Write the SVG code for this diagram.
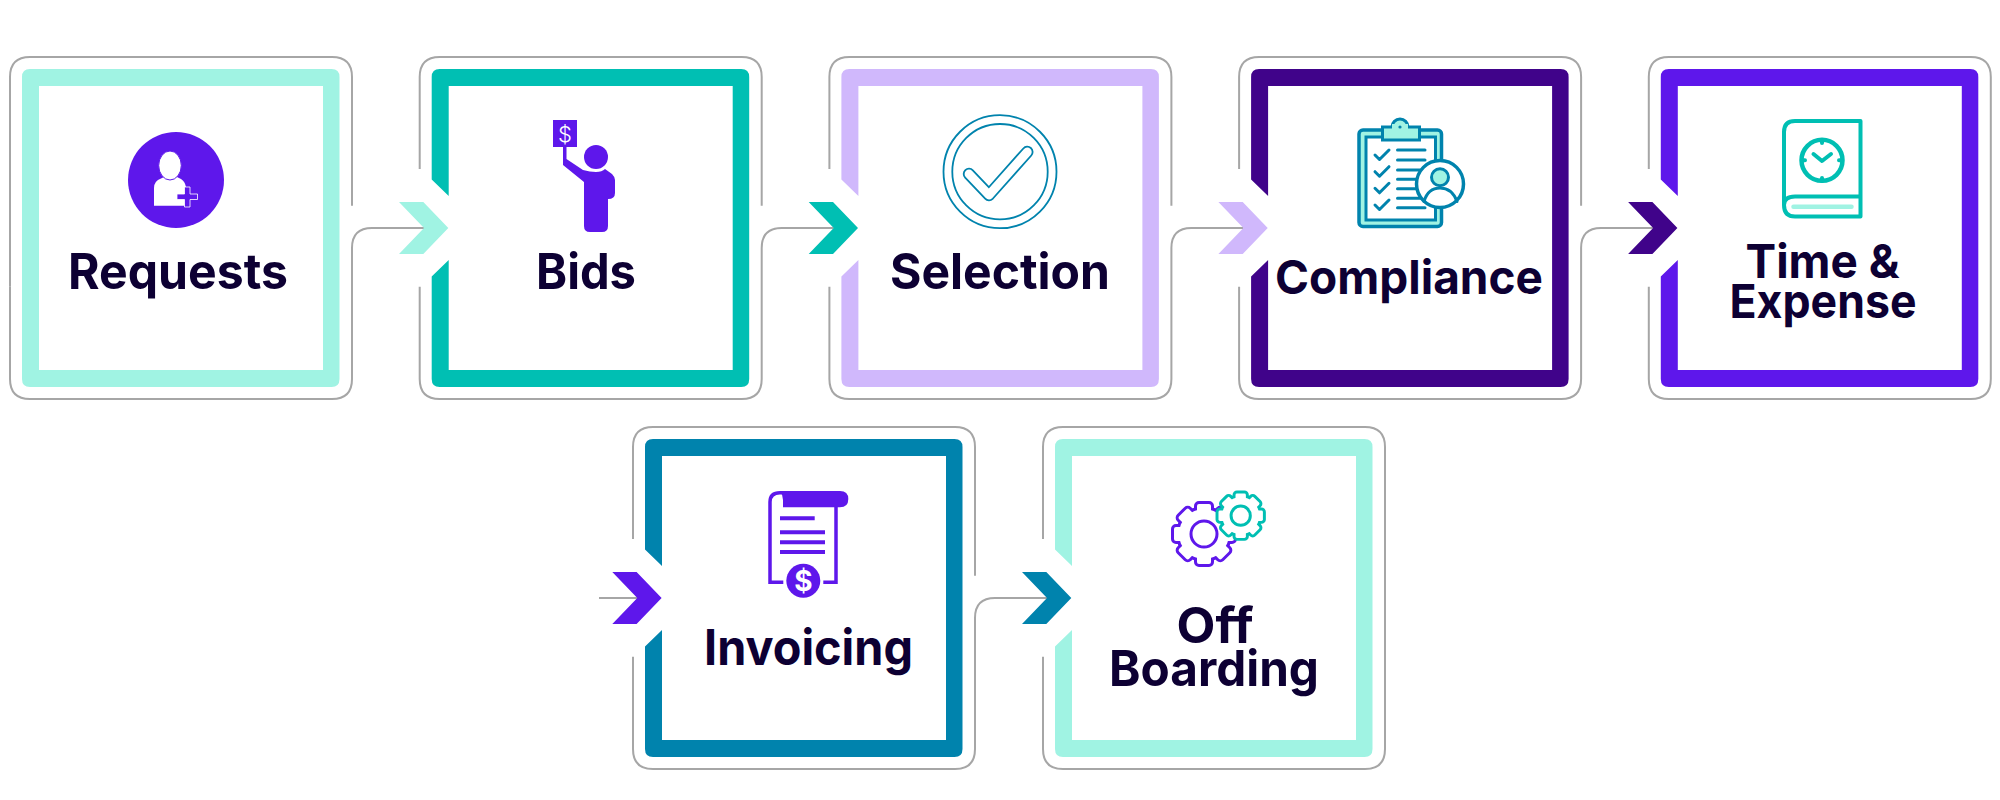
<svg xmlns="http://www.w3.org/2000/svg" width="2000" height="800" viewBox="0 0 2000 800">
<style>
.lbl{font-family:"Inter","Liberation Sans",sans-serif;font-weight:650;font-size:49px;fill:#0d0033;text-anchor:middle}
.sm{font-size:47px}
.wire{fill:none;stroke:#a6a6a6;stroke-width:2}
.tl{fill:none;stroke:#0083ad;stroke-linecap:round;stroke-linejoin:round}
</style>
<defs>
<path id="band" d="M39 86H323V370H39V260L22 276.5V379Q22 387 30 387H331.5Q339.5 387 339.5 379V77Q339.5 69 331.5 69H30Q22 69 22 77V179.5L39 196Z"/>
<polygon id="chev" points="399,202 423.3,202 448.3,228 423.3,254 399,254 424,228"/>
<path id="ftop" d="M10 169V77Q10 57 30 57H332Q352 57 352 77V205.7"/>
<path id="fbot" d="M424 228H372Q352 228 352 248V379Q352 399 332 399H30Q10 399 10 379V286.7"/>
<g id="gear">
<circle r="25"/>
<g id="teeth">
<rect x="-7" y="-30" width="14" height="12" rx="2"/>
<rect x="-7" y="-30" width="14" height="12" rx="2" transform="rotate(45)"/>
<rect x="-7" y="-30" width="14" height="12" rx="2" transform="rotate(90)"/>
<rect x="-7" y="-30" width="14" height="12" rx="2" transform="rotate(135)"/>
<rect x="-7" y="-30" width="14" height="12" rx="2" transform="rotate(180)"/>
<rect x="-7" y="-30" width="14" height="12" rx="2" transform="rotate(225)"/>
<rect x="-7" y="-30" width="14" height="12" rx="2" transform="rotate(270)"/>
<rect x="-7" y="-30" width="14" height="12" rx="2" transform="rotate(315)"/>
</g>
</g>
</defs>

<g id="connectors">
<use href="#fbot"  class="wire"/>
<path class="wire" d="M10 169V77Q10 57 30 57H332Q352 57 352 77V205.7"/>
<path class="wire" d="M10 169V286.7"/>
<use href="#ftop" class="wire" x="409.7"/><use href="#fbot" class="wire" x="409.7"/>
<use href="#ftop" class="wire" x="819.4"/><use href="#fbot" class="wire" x="819.4"/>
<use href="#ftop" class="wire" x="1229.1"/><use href="#fbot" class="wire" x="1229.1"/>
<path class="wire" d="M1648.8 169V77Q1648.8 57 1668.8 57H1970.8Q1990.8 57 1990.8 77V379Q1990.8 399 1970.8 399H1668.8Q1648.8 399 1648.8 379V286.7"/>
<use href="#ftop" class="wire" x="623" y="370"/><use href="#fbot" class="wire" x="623" y="370"/>
<path class="wire" d="M1043 539V447Q1043 427 1063 427H1365Q1385 427 1385 447V749Q1385 769 1365 769H1063Q1043 769 1043 749V656.7"/>
<path class="wire" d="M599 598H638"/>
<use href="#chev" fill="#a0f3e3"/>
<use href="#chev" fill="#00bfb3" x="409.7"/>
<use href="#chev" fill="#d0b8fc" x="819.4"/>
<use href="#chev" fill="#40038a" x="1229.1"/>
<use href="#chev" fill="#5e17eb" x="213.3" y="370"/>
<use href="#chev" fill="#0083ad" x="623" y="370"/>
</g>

<g id="node-requests">
<path fill="#a0f3e3" fill-rule="evenodd" d="M30 69H331.5Q339.5 69 339.5 77V379Q339.5 387 331.5 387H30Q22 387 22 379V77Q22 69 30 69ZM39 86V370H323V86Z"/>
<circle cx="176" cy="180" r="48" fill="#5e17eb"/>
<path fill="#fff" d="M154 205.7V188Q154 181 161 178.5L165 176.5Q170 181 176 176.5L181 179Q185 181.5 186 187V205.7Z"/>
<ellipse cx="170" cy="165.5" rx="11.3" ry="14.5" fill="#fff" stroke="#5e17eb" stroke-width="1"/>
<path fill="#5e17eb" stroke="#fff" stroke-width="0.8" d="M184.5 187H190V194H197.5V199.5H190V207H184.5V199.5H177V194H184.5Z"/>
<text class="lbl" x="178" y="289" textLength="220" lengthAdjust="spacingAndGlyphs">Requests</text>
</g>

<g id="node-bids">
<use href="#band" x="409.7" fill="#00bfb3"/>
<rect x="553" y="120" width="24" height="27" fill="#5e17eb"/>
<text x="565" y="142" text-anchor="middle" font-family="Inter,'Liberation Sans',sans-serif" font-weight="300" font-size="22" fill="#fff">$</text>
<circle cx="596" cy="157" r="12" fill="#5e17eb"/>
<path fill="#5e17eb" d="M563 147H566.5V159L583 170Q590 172 596 172Q602 172 605 169L612 174Q615 177 615 180V193Q615 199 608 199V226Q608 232 602 232H590Q584 232 584 226V182L563 165Z"/>
<text class="lbl" x="586" y="289" textLength="100" lengthAdjust="spacingAndGlyphs">Bids</text>
</g>

<g id="node-selection">
<use href="#band" x="819.4" fill="#d0b8fc"/>
<circle cx="1000" cy="171.7" r="56.5" fill="none" stroke="#0083ad" stroke-width="1.8"/>
<circle cx="1000" cy="171.7" r="47.7" fill="none" stroke="#0083ad" stroke-width="1.8"/>
<polyline class="tl" stroke-width="12.4" points="969,174 989,195 1027.3,152"/>
<polyline fill="none" stroke="#fff" stroke-width="8.8" stroke-linecap="round" stroke-linejoin="round" points="969,174 989,195 1027.3,152"/>
<text class="lbl" x="1000" y="289" textLength="220" lengthAdjust="spacingAndGlyphs">Selection</text>
</g>

<g id="node-compliance">
<use href="#band" x="1229.1" fill="#40038a"/>
<rect x="1359" y="130" width="82.5" height="96.5" rx="4" fill="#a0f3e3" stroke="#0083ad" stroke-width="3.5"/>
<rect x="1366" y="137" width="69.5" height="83" fill="#fff" stroke="#0083ad" stroke-width="3"/>
<circle cx="1400" cy="127" r="8" fill="#a0f3e3" stroke="#0083ad" stroke-width="3"/>
<rect x="1382.5" y="127" width="37" height="13" fill="#a0f3e3" stroke="#0083ad" stroke-width="3"/>
<rect x="1392" y="124" width="16" height="5" fill="#a0f3e3"/>
<circle cx="1400" cy="127" r="1.6" fill="#0083ad"/>
<path class="tl" stroke-width="3" d="M1375 155L1379.5 159.5L1389 150M1375 171.7L1379.5 176.2L1389 166.7M1375 188.3L1379.5 192.8L1389 183.3M1375 205L1379.5 209.5L1389 200M1397.5 150H1425M1397.5 160H1425M1397.5 170H1420M1397.5 179.3H1420M1397.5 188.7H1420M1397.5 198.3H1420M1397.5 207.7H1425"/>
<circle cx="1440" cy="184" r="23.5" fill="#fff" stroke="#0083ad" stroke-width="3.5"/>
<circle cx="1440" cy="177.3" r="8.5" fill="#a0f3e3" stroke="#0083ad" stroke-width="3"/>
<path class="tl" stroke-width="3" d="M1424 201.5Q1428 188 1440 188Q1452 188 1457 201.5"/>
<text class="lbl sm" x="1409" y="294" textLength="268" lengthAdjust="spacingAndGlyphs">Compliance</text>
</g>

<g id="node-time">
<use href="#band" x="1638.8" fill="#5e17eb"/>
<g fill="none" stroke="#00bfb3" stroke-width="4" stroke-linejoin="round">
<path d="M1860.5 121H1795Q1784 121 1784 132V205Q1784 216.5 1795 216.5H1860.5ZM1784 205Q1784 196.5 1795 196.5H1860.5"/>
<circle cx="1822" cy="160.3" r="20.5" stroke-width="4.5"/>
<path stroke-width="4" stroke-linecap="round" d="M1813.5 154L1822 161L1831 154M1822 140V143M1822 178V181M1802 160.3H1805M1839 160.3H1842"/>
</g>
<path d="M1793.5 206.7H1851.5" fill="none" stroke="#a0f3e3" stroke-width="4.5" stroke-linecap="round"/>
<text class="lbl sm" x="1822.5" y="278" textLength="154" lengthAdjust="spacingAndGlyphs">Time &amp;</text>
<text class="lbl sm" x="1823" y="318" textLength="187" lengthAdjust="spacingAndGlyphs">Expense</text>
</g>

<g id="node-invoicing">
<use href="#band" x="623" y="370" fill="#0083ad"/>
<g fill="none" stroke="#5e17eb">
<path stroke-width="3.5" d="M783.3 582.3H770V502Q770 492.7 780 492.7H790M836 505V582.3H823.3"/>
<path stroke-width="4" d="M780 518.3H814.7M780 532.3H825M780 542.3H825M780 552H825"/>
</g>
<path fill="#5e17eb" d="M780 491H840Q848.3 491 848.3 499Q848.3 507.3 840 507.3H783Q783 505 783 500Q783 495 780 491Z"/>
<circle cx="803.3" cy="580.7" r="17" fill="#5e17eb"/>
<text x="803.3" y="591" text-anchor="middle" font-family="Inter,'Liberation Sans',sans-serif" font-weight="700" font-size="28" fill="#fff">$</text>
<text class="lbl" x="808.5" y="665" textLength="209" lengthAdjust="spacingAndGlyphs">Invoicing</text>
</g>

<g id="node-offboarding">
<use href="#band" x="1033" y="370" fill="#a0f3e3"/>
<g transform="translate(1204 534)">
<use href="#gear" fill="#5e17eb" stroke="#5e17eb" stroke-width="6"/>
<use href="#gear" fill="#fff"/>
<circle r="13" fill="none" stroke="#5e17eb" stroke-width="3"/>
</g>
<g transform="translate(1240.7 515.7) scale(.74)">
<use href="#gear" fill="#00bfb3" stroke="#00bfb3" stroke-width="8"/>
<use href="#gear" fill="#fff"/>
<circle r="13" fill="none" stroke="#00bfb3" stroke-width="4"/>
</g>
<text class="lbl" x="1215" y="642.7" textLength="77" lengthAdjust="spacingAndGlyphs">Off</text>
<text class="lbl" x="1214" y="685.7" textLength="210" lengthAdjust="spacingAndGlyphs">Boarding</text>
</g>
</svg>
